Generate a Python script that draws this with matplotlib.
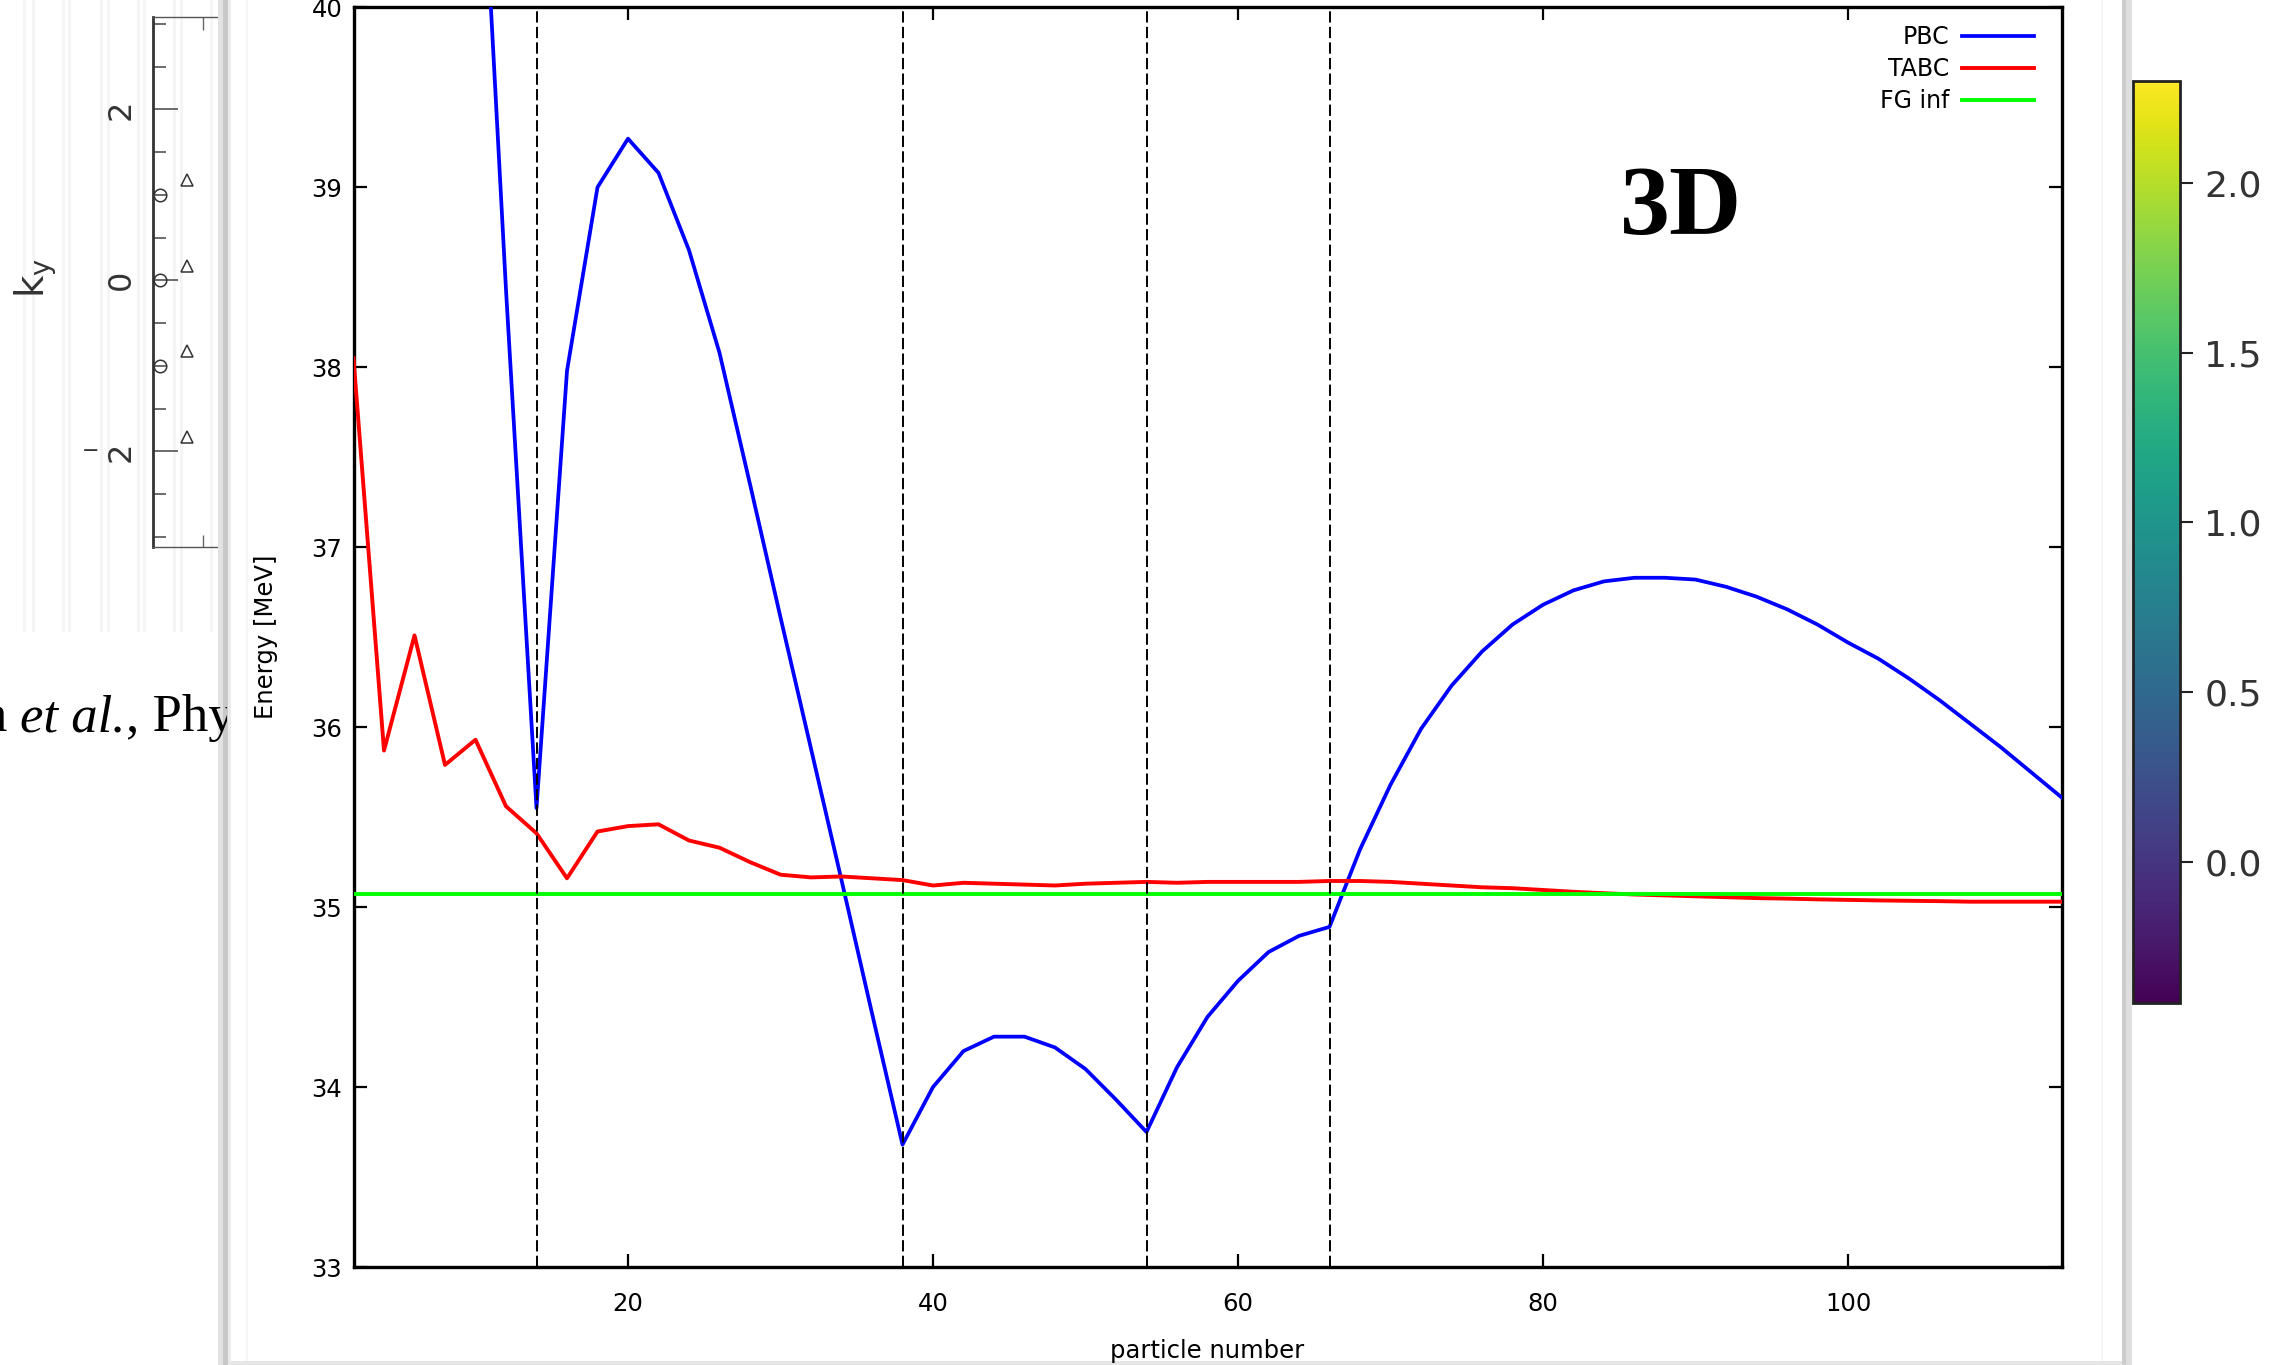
import numpy as np
import matplotlib
matplotlib.use("Agg")
import matplotlib.pyplot as plt
from matplotlib.colors import Normalize
from matplotlib.cm import ScalarMappable
from matplotlib.patches import Rectangle
import matplotlib.transforms as mtransforms

# ---------------- data ----------------
# PBC energy per particle [MeV] (points below 10 lie far above the window)
n_pbc = [10, 12, 14, 16, 18, 20, 22, 24, 26, 28, 30, 32, 34, 36, 38, 40, 42, 44,
         46, 48, 50, 52, 54, 56, 58, 60, 62, 64, 66, 68, 70, 72, 74, 76, 78, 80,
         82, 84, 86, 88, 90, 92, 94, 96, 98, 100, 102, 104, 106, 108, 110, 112, 114]
e_pbc = [41.6, 38.43, 35.55, 37.98, 39.0, 39.27, 39.08, 38.65, 38.08, 37.35, 36.61,
         35.88, 35.15, 34.41, 33.68, 34.0, 34.2, 34.28, 34.28, 34.22, 34.1, 33.93,
         33.75, 34.11, 34.39, 34.59, 34.75, 34.84, 34.89, 35.32, 35.68, 35.99, 36.23,
         36.42, 36.57, 36.68, 36.76, 36.81, 36.83, 36.83, 36.82, 36.78, 36.725,
         36.655, 36.57, 36.47, 36.38, 36.27, 36.15, 36.02, 35.89, 35.75, 35.61]

# TABC energy per particle [MeV]
n_tabc = [2, 4, 6, 8, 10, 12, 14, 16, 18, 20, 22, 24, 26, 28, 30, 32, 34, 36, 38,
          40, 42, 44, 46, 48, 50, 52, 54, 56, 58, 60, 62, 64, 66, 68, 70, 72, 74,
          76, 78, 80, 82, 84, 86, 88, 90, 92, 94, 96, 98, 100, 102, 104, 106, 108,
          110, 112, 114]
e_tabc = [38.05, 35.87, 36.51, 35.79, 35.93, 35.56, 35.41, 35.16, 35.42, 35.45,
          35.46, 35.37, 35.33, 35.25, 35.18, 35.165, 35.17, 35.16, 35.15, 35.12,
          35.135, 35.13, 35.125, 35.12, 35.13, 35.135, 35.14, 35.135, 35.14, 35.14,
          35.14, 35.14, 35.145, 35.145, 35.14, 35.13, 35.12, 35.11, 35.105, 35.095,
          35.085, 35.077, 35.07, 35.065, 35.06, 35.055, 35.05, 35.047, 35.043, 35.04,
          35.037, 35.035, 35.033, 35.03, 35.03, 35.03, 35.03]

# free gas, thermodynamic limit
e_fg_inf = 35.07

# closed-shell particle numbers
shell_closures = [14, 38, 54, 66]

x_ticks = [20, 40, 60, 80, 100]
y_ticks = [33, 34, 35, 36, 37, 38, 39, 40]

# colour bar range
cbar_min, cbar_max = -0.415, 2.3
cbar_ticks = [0.0, 0.5, 1.0, 1.5, 2.0]

# small k-space panel
ky_major = [-2, 0, 2]
ky_minor = [-3.0, -2.5, -1.5, -1.0, -0.5, 0.5, 1.0, 1.5, 2.5, 3.0]
kx_circles = [-3.05, -3.05, -3.05]
ky_circles = [1.0, 0.0, -1.0]
kx_triangles = [-2.71, -2.71, -2.71, -2.71]
ky_triangles = [1.17, 0.17, -0.83, -1.83]

# ---------------- figure ----------------
W, H = 2281, 1365
fig = plt.figure(figsize=(W / 100, H / 100), dpi=100)
fig.patch.set_facecolor("white")


def fx(px):
    return px / W


def fy(py):
    return 1 - py / H


def band(x0, x1, y0, y1, color, z):
    fig.add_artist(Rectangle((fx(x0), fy(y1)), fx(x1) - fx(x0), fy(y0) - fy(y1),
                             transform=fig.transFigure, facecolor=color,
                             edgecolor="none", zorder=z))


# faint stripes of the slide background
for sx in [23, 32, 62, 68, 100, 107, 137, 143, 173, 180, 210]:
    band(sx, sx + 3, 0, 632, "#f5f5f5", 1)

# ---- small k-space panel on the slide ----
ax_k = fig.add_axes([fx(153), fy(547), fx(227) - fx(153), fy(17) - fy(547)])
ax_k.set_zorder(2)
ax_k.patch.set_alpha(0)
ax_k.set_xlim(-3.14, -2.2)
ax_k.set_ylim(-3.12, 3.08)
ax_k.plot(kx_circles, ky_circles, "o", mfc="none", mec="#333", ms=9, mew=1.1)
ax_k.plot(kx_triangles, ky_triangles, "^", mfc="none", mec="#333", ms=8, mew=1.1)
for s in ["top", "bottom"]:
    ax_k.spines[s].set_color("#555")
    ax_k.spines[s].set_linewidth(1.0)
ax_k.spines["left"].set_color("#333")
ax_k.spines["left"].set_linewidth(2.0)
ax_k.spines["right"].set_visible(False)
ax_k.set_yticks(ky_major)
ax_k.set_yticks(ky_minor, minor=True)
ax_k.set_xticks([-2.5])
ax_k.tick_params(axis="y", which="major", direction="in", length=18, width=1.1,
                 color="#444", labelleft=False)
ax_k.tick_params(axis="y", which="minor", direction="in", length=9, width=1.1,
                 color="#444")
ax_k.tick_params(axis="x", direction="in", length=9, width=1.0, color="#666",
                 top=True, labelbottom=False)
kt = mtransforms.blended_transform_factory(fig.transFigure, ax_k.transData)
for v in ky_major:
    ax_k.text(fx(121), v, str(abs(v)), transform=kt, rotation=90, fontsize=23,
              color="#333", ha="center", va="center", fontfamily="DejaVu Sans",
              clip_on=False)
    if v < 0:
        ax_k.text(fx(91), v, "\u2212", transform=kt, rotation=0, fontsize=15,
                  color="#333", ha="center", va="center",
                  fontfamily="DejaVu Sans", clip_on=False)
fig.text(fx(36), fy(278), r"$\mathregular{k_y}$", rotation=90, fontsize=28,
         color="#333", ha="center", va="center", zorder=2)

# citation fragment on the slide, cut by the window edge
renderer = fig.canvas.get_renderer()
clip = Rectangle((0, 0), fx(227), 1, transform=fig.transFigure)
t1 = fig.text(fx(7), fy(731), "n", fontsize=38, family="Liberation Serif",
              ha="right", va="baseline", zorder=3.5)
t2 = fig.text(fx(20), fy(731), "et al.", fontsize=38, family="Liberation Serif",
              style="italic", ha="left", va="baseline", zorder=3.5)
bb = t2.get_window_extent(renderer)
t3 = fig.text(bb.x1 / W, fy(731), ", Phy", fontsize=38, family="Liberation Serif",
              ha="left", va="baseline", zorder=3.5)
t3.set_clip_path(clip)

# window edges
band(218, 223, 0, H, "#e2e2e2", 3)
band(223, 228, 0, H, "#c8c8c8", 3)
band(228, 231, 0, H, "#ebebeb", 3)
band(231, 2122, 0, H, "white", 2.8)
band(246, 248, 0, H, "#f6f6f6", 3)
band(2101, 2103, 0, H, "#f6f6f6", 3)
band(2122, 2126, 0, H, "#cccccc", 3)
band(2126, 2132, 0, H, "#dedede", 3)
band(231, 2122, 1361, H, "#e6e6e6", 3)

# ---- main panel ----
ax = fig.add_axes([fx(353.5), fy(1267), fx(2061.5) - fx(353.5), fy(7.3) - fy(1267)])
ax.set_zorder(4)
ax.plot(n_pbc, e_pbc, color="#0000ff", lw=2.7, label="PBC", zorder=3)
ax.plot(n_tabc, e_tabc, color="#ff0000", lw=2.8, label="TABC", zorder=3)
ax.axhline(e_fg_inf, color="#00ff00", lw=2.8, label="FG inf", zorder=3)
for nc in shell_closures:
    ax.axvline(nc, color="black", lw=1.4, ls=(0, (5.8, 2.2)), zorder=4)

ax.set_xlim(2, 114)
ax.set_ylim(33, 40)
ax.set_xticks(x_ticks)
ax.set_yticks(y_ticks)
for s in ax.spines.values():
    s.set_linewidth(2.4)
ax.tick_params(direction="in", length=9.4, width=1.6, top=True, right=True,
               labelsize=17.5)
ax.tick_params(axis="y", pad=8)
ax.tick_params(axis="x", pad=18)

fig.text(fx(1207.5), fy(1351), "particle number", fontsize=17.5,
         ha="center", va="center", zorder=5)
fig.text(fx(266), fy(637), "Energy [MeV]", fontsize=17.5, rotation=90,
         ha="center", va="center", zorder=5)

ax.text(fx(1681), fy(210), "3D", transform=fig.transFigure, fontsize=72,
        family="Liberation Serif", weight="bold", ha="center", va="center")

leg = ax.legend(loc="upper right", bbox_to_anchor=((2034 - 353.5) / 1708, 0.9860),
                markerfirst=False, frameon=False, fontsize=17, handlelength=3.05,
                handletextpad=0.55, labelspacing=0.35, borderpad=0, borderaxespad=0)

# ---- colour bar ----
cax = fig.add_axes([fx(2133), fy(1003), fx(2180) - fx(2133), fy(81) - fy(1003)])
cax.set_zorder(4)
cb = fig.colorbar(ScalarMappable(norm=Normalize(cbar_min, cbar_max), cmap="viridis"),
                  cax=cax)
cb.set_ticks(cbar_ticks)
cb.set_ticklabels([f"{v:.1f}" for v in cbar_ticks])
cb.outline.set_linewidth(2.0)
cb.outline.set_edgecolor("#222222")
cax.tick_params(labelsize=26, length=9.5, width=1.5, color="#222222",
                labelcolor="#333333", pad=8)

fig.savefig("out.png", dpi=100)
